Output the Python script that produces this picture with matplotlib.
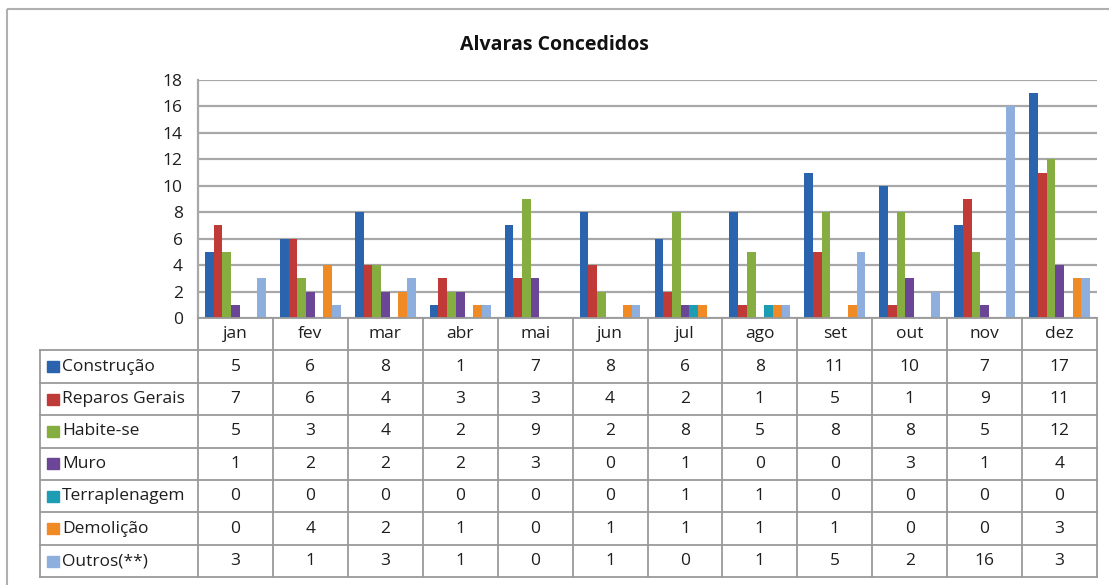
import numpy as np
import matplotlib
matplotlib.use("Agg")
import matplotlib.pyplot as plt
from matplotlib.patches import Rectangle

months = ["jan", "fev", "mar", "abr", "mai", "jun", "jul", "ago", "set", "out", "nov", "dez"]
series = ["Construção", "Reparos Gerais", "Habite-se", "Muro", "Terraplenagem", "Demolição", "Outros(**)"]
construcao = [5, 6, 8, 1, 7, 8, 6, 8, 11, 10, 7, 17]
reparos = [7, 6, 4, 3, 3, 4, 2, 1, 5, 1, 9, 11]
habite = [5, 3, 4, 2, 9, 2, 8, 5, 8, 8, 5, 12]
muro = [1, 2, 2, 2, 3, 0, 1, 0, 0, 3, 1, 4]
terrapl = [0, 0, 0, 0, 0, 0, 1, 1, 0, 0, 0, 0]
demolicao = [0, 4, 2, 1, 0, 1, 1, 1, 1, 0, 0, 3]
outros = [3, 1, 3, 1, 0, 1, 0, 1, 5, 2, 16, 3]
values = [construcao, reparos, habite, muro, terrapl, demolicao, outros]
colors = ["#2A63AE", "#C03A37", "#86AD3F", "#6B4596", "#1D9DB4", "#F08A24", "#8EAEDD"]

plt.rcParams['font.family'] = ['Open Sans', 'DejaVu Sans']

W, H = 1109, 585
fig = plt.figure(figsize=(W / 100, H / 100), dpi=100)

# pixel layout
left, right = 198, 1097
top, base = 80, 318
row_h = 32.4
leg_left = 40
txt_col = "#1e1e1e"
line_col = "#9a9a9a"
fs = 12.5

# bars
ax = fig.add_axes([left / W, 1 - base / H, (right - left) / W, (base - top) / H])
n = len(series)
bw = 0.116
x = np.arange(len(months)) + 0.5
for k, (name, vals) in enumerate(zip(series, values)):
    ax.bar(x + (k - (n - 1) / 2) * bw, vals, width=bw, color=colors[k], zorder=3)
ax.set_xlim(0, len(months))
ax.set_ylim(0, 18)
ax.set_yticks(range(0, 19, 2))
ax.set_xticks([])
ax.tick_params(axis='y', length=0, pad=11, labelsize=fs, labelcolor=txt_col)
ax.grid(axis='y', color="#a8a8a8", lw=1.6, zorder=0)
for s in ["top", "right", "bottom"]:
    ax.spines[s].set_visible(False)
ax.spines["left"].set_color("#a8a8a8")
ax.spines["left"].set_linewidth(1.6)

# data table drawn in pixel coords
tax = fig.add_axes([0, 0, 1, 1])
tax.set_xlim(0, W)
tax.set_ylim(H, 0)
tax.axis("off")
col_w = (right - left) / len(months)
bottom = base + row_h * (n + 1)
lk = dict(color=line_col, lw=1.3)
for i in range(len(months) + 1):
    tax.plot([left + i * col_w] * 2, [base, bottom], **lk)
tax.plot([leg_left, leg_left], [base + row_h, bottom], **lk)
tax.plot([left, right], [base, base], **lk)
for r in range(1, n + 2):
    tax.plot([leg_left, right], [base + r * row_h] * 2, **lk)
for i, m in enumerate(months):
    tax.text(left + (i + 0.5) * col_w, base + row_h / 2, m, ha="center", va="center",
             fontsize=fs, color=txt_col)
for k, (name, vals) in enumerate(zip(series, values)):
    yc = base + (k + 1.5) * row_h
    tax.add_patch(Rectangle((leg_left + 7, yc - 5.5), 12, 11, color=colors[k]))
    tax.text(leg_left + 22, yc, name, ha="left", va="center", fontsize=fs, color=txt_col)
    for i, v in enumerate(vals):
        tax.text(left + (i + 0.5) * col_w, yc, str(v), ha="center", va="center",
                 fontsize=fs, color=txt_col)

# outer chart frame
tax.add_patch(Rectangle((7, 9), W, H, fill=False, ec="#b0b0b0", lw=1.5))

fig.text(0.5, 1 - 45 / H, "Alvaras Concedidos", ha="center", va="center",
         fontsize=14, fontweight="bold", color="#111111")

fig.savefig("out.png", dpi=100, facecolor="white")
